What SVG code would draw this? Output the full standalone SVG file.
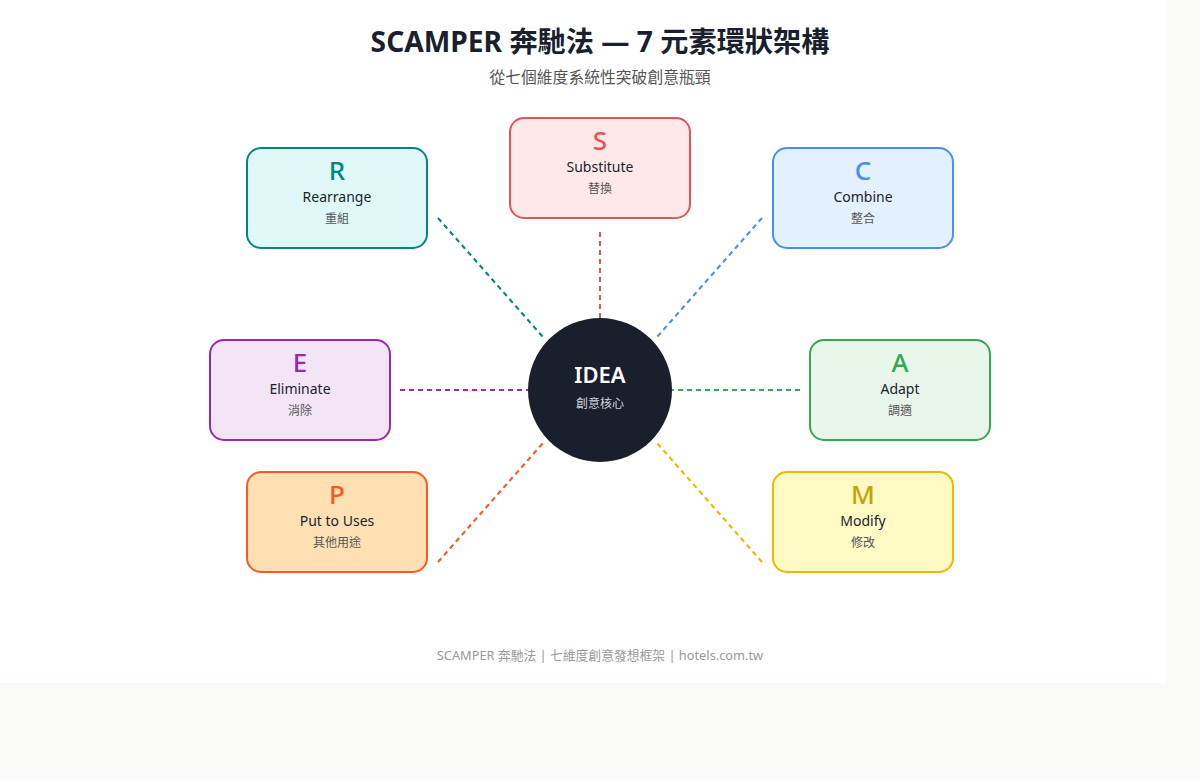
<svg xmlns="http://www.w3.org/2000/svg" width="1200" height="780" viewBox="0 0 1200 780">
<style>
text{font-family:"Noto Sans","Open Sans","Noto Sans CJK TC",sans-serif;text-anchor:middle}
.cjk{font-family:"Noto Sans","Noto Sans CJK TC",sans-serif}
.box{stroke-width:2}
.let{font-size:26px;font-weight:500}
.name{font-size:14px;fill:#1a1f2e}
.zh{font-size:12px;fill:#555}
.con line{stroke-width:2;stroke-dasharray:5 4;fill:none}
</style>
<rect x="0" y="0" width="1200" height="780" fill="#fafaf7"/>
<rect x="0" y="0" width="1166" height="683" fill="#ffffff"/>
<text x="600" y="52" class="cjk" style="font-size:28.2px;font-weight:700;fill:#1a1f2e">SCAMPER 奔馳法 — 7 元素環狀架構</text>
<text x="600" y="83" class="cjk" style="font-size:15.8px;fill:#555">從七個維度系統性突破創意瓶頸</text>
<g id="connectors" class="con">
<line x1="600" y1="232" x2="600" y2="318" stroke="#e05555"/>
<line x1="438" y1="218" x2="543" y2="337" stroke="#00897b"/>
<line x1="762" y1="218" x2="657" y2="337" stroke="#4a8ff0"/>
<line x1="400" y1="390" x2="528" y2="390" stroke="#9c27b0"/>
<line x1="800" y1="390" x2="672" y2="390" stroke="#34a853"/>
<line x1="438" y1="562" x2="543" y2="443" stroke="#ff5722"/>
<line x1="762" y1="562" x2="657" y2="443" stroke="#f4b400"/>
</g>
<g id="center">
<circle cx="600" cy="390" r="72" fill="#1a1f2e"/>
<text x="600" y="383" style="font-size:22px;font-weight:600;fill:#ffffff">IDEA</text>
<text x="600" y="408" class="cjk" style="font-size:12px;fill:#d0d4dc">創意核心</text>
</g>
<g id="node-S">
<rect x="510" y="118" width="180" height="100" rx="14" class="box" fill="#ffe8ea" stroke="#e05555"/>
<text x="600" y="150" class="let" fill="#e05555">S</text>
<text x="600" y="172" class="name">Substitute</text>
<text x="600" y="193" class="zh cjk">替換</text>
</g>
<g id="node-R">
<rect x="247" y="148" width="180" height="100" rx="14" class="box" fill="#e0f7f7" stroke="#00897b"/>
<text x="337" y="180" class="let" fill="#00897b">R</text>
<text x="337" y="202" class="name">Rearrange</text>
<text x="337" y="223" class="zh cjk">重組</text>
</g>
<g id="node-C">
<rect x="773" y="148" width="180" height="100" rx="14" class="box" fill="#e3f0fd" stroke="#4a8ff0"/>
<text x="863" y="180" class="let" fill="#4a8ff0">C</text>
<text x="863" y="202" class="name">Combine</text>
<text x="863" y="223" class="zh cjk">整合</text>
</g>
<g id="node-E">
<rect x="210" y="340" width="180" height="100" rx="14" class="box" fill="#f3e5f5" stroke="#9c27b0"/>
<text x="300" y="372" class="let" fill="#9c27b0">E</text>
<text x="300" y="394" class="name">Eliminate</text>
<text x="300" y="415" class="zh cjk">消除</text>
</g>
<g id="node-A">
<rect x="810" y="340" width="180" height="100" rx="14" class="box" fill="#e8f5e9" stroke="#34a853"/>
<text x="900" y="372" class="let" fill="#34a853">A</text>
<text x="900" y="394" class="name">Adapt</text>
<text x="900" y="415" class="zh cjk">調適</text>
</g>
<g id="node-P">
<rect x="247" y="472" width="180" height="100" rx="14" class="box" fill="#ffe0b2" stroke="#ff5722"/>
<text x="337" y="504" class="let" fill="#ff5722">P</text>
<text x="337" y="526" class="name">Put to Uses</text>
<text x="337" y="547" class="zh cjk">其他用途</text>
</g>
<g id="node-M">
<rect x="773" y="472" width="180" height="100" rx="14" class="box" fill="#fff9c4" stroke="#f4b400"/>
<text x="863" y="504" class="let" fill="#c9a000">M</text>
<text x="863" y="526" class="name">Modify</text>
<text x="863" y="547" class="zh cjk">修改</text>
</g>
<text x="600" y="660" class="cjk" style="font-size:12.8px;fill:#999">SCAMPER 奔馳法 | 七維度創意發想框架 | hotels.com.tw</text>
</svg>
